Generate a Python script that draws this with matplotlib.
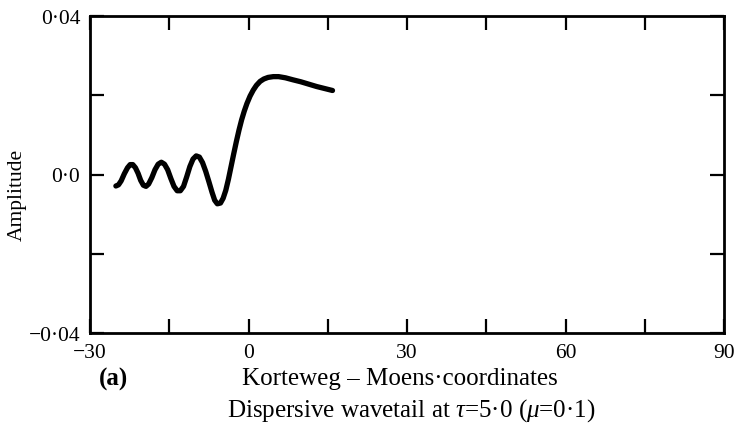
import numpy as np
import matplotlib
matplotlib.use("Agg")
import matplotlib.pyplot as plt

# Korteweg-Moens coordinate and amplitude
kmc = [-25.1, -24.6, -24.1, -23.5, -22.9, -22.4, -21.9, -21.4, -20.9, -20.4,
       -19.9, -19.4, -18.9, -18.3, -17.7, -17.1, -16.5, -15.9, -15.3, -14.7,
       -14.1, -13.5, -12.9, -12.3, -11.7, -11.1, -10.5, -9.9, -9.3, -8.7,
       -8.1, -7.5, -6.9, -6.4, -5.9, -5.3, -4.8, -4.3, -3.8, -3.3,
       -2.8, -2.3, -1.8, -1.3, -0.8, -0.3, 0.3, 0.9, 1.5, 2.2,
       2.9, 3.7, 4.7, 5.7, 7.0, 8.4, 9.9, 11.4, 12.9, 14.4, 15.9]
amp = [-0.0029, -0.0026, -0.0016, 0.0002, 0.0017, 0.0025, 0.0025, 0.0017,
       0.0003, -0.0015, -0.0027, -0.0030, -0.0024, -0.0008, 0.0012, 0.0026,
       0.0031, 0.0026, 0.0012, -0.0010, -0.0030, -0.0041, -0.0041, -0.0030,
       -0.0006, 0.0020, 0.0039, 0.0047, 0.0044, 0.0030, 0.0008, -0.0018,
       -0.0045, -0.0065, -0.0074, -0.0072, -0.0060, -0.0040, -0.0012, 0.0020,
       0.0052, 0.0083, 0.0112, 0.0138, 0.0160, 0.0179, 0.0198, 0.0213,
       0.0225, 0.0235, 0.0241, 0.0245, 0.0247, 0.0247, 0.0244, 0.0239,
       0.0234, 0.0228, 0.0222, 0.0217, 0.0212]

xticks = [-30, -15, 0, 15, 30, 45, 60, 75, 90]
xticklabels = ["\u221230", "", "0", "", "30", "", "60", "", "90"]
yticks = [-0.04, -0.02, 0.0, 0.02, 0.04]
yticklabels = ["\u22120\u00b704", "", "0\u00b70", "", "0\u00b704"]

plt.rcParams["font.family"] = ["Liberation Serif", "DejaVu Serif"]
plt.rcParams["mathtext.fontset"] = "custom"
plt.rcParams["mathtext.rm"] = "Liberation Serif"
plt.rcParams["mathtext.it"] = "Liberation Serif:italic"

W, H = 738, 439
fig = plt.figure(figsize=(W / 100, H / 100), dpi=100)
ax = fig.add_axes([90 / W, 1 - 334 / H, (724 - 90) / W, (334 - 17) / H])

ax.plot(kmc, amp, color="black", lw=3.8, solid_capstyle="round",
        solid_joinstyle="round")

ax.set_xlim(-30, 90)
ax.set_ylim(-0.04, 0.04)
ax.set_xticks(xticks)
ax.set_xticklabels(xticklabels)
ax.set_yticks(yticks)
ax.set_yticklabels(yticklabels)
ax.tick_params(direction="in", length=10, width=1.6, top=True, right=True,
               labelsize=15.5, color="black")
ax.tick_params(axis="x", pad=7)
ax.tick_params(axis="y", pad=7)
for s in ax.spines.values():
    s.set_linewidth(2.0)

fig.text(17 / W, 1 - 195 / H, "Amplitude", rotation=90, ha="center",
         va="center", fontsize=15.5)
fig.text(113 / W, 1 - 379 / H, "(a)", ha="center", va="center",
         fontsize=18, fontweight="bold")
fig.text(400 / W, 1 - 379 / H, "Korteweg \u2013 Moens\u00b7coordinates",
         ha="center", va="center", fontsize=18)
fig.text(411 / W, 1 - 411 / H,
         "Dispersive wavetail at $\\tau$=5\u00b70 ($\\mu$=0\u00b71)",
         ha="center", va="center", fontsize=18)

fig.savefig("out.png", dpi=100)
